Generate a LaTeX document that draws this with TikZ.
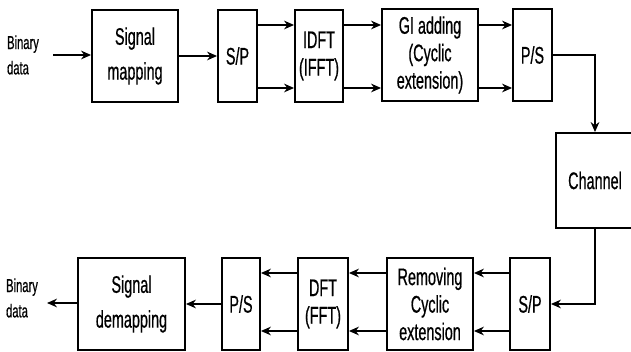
\documentclass[tikz,border=0pt]{standalone}
\usepackage{fontspec}
\setmainfont{Liberation Sans}[FakeStretch=0.6,FakeBold=0.6]
\usetikzlibrary{arrows.meta,positioning}
\tikzset{
  >={Stealth[length=7.5pt,width=6.5pt]},
  block/.style={rectangle,draw,line width=1.4pt,minimum height=69pt,align=center,inner sep=1pt,
    font=\fontsize{18}{20.6}\selectfont},
  iotext/.style={align=left,inner sep=0pt,font=\fontsize{14}{19}\selectfont},
  link/.style={->,line width=1.2pt}
}

\begin{document}
\begin{tikzpicture}[x=0.75pt,y=-0.75pt]
  \useasboundingbox (0,0) rectangle (631,352);

  % Transmitter
  \node[iotext] (datain) at (23,55) {Binary\\data};
  \node[block,minimum width=64.5pt] (mapping) at (135,56) {Signal\\[5.5pt]mapping};
  \node[block,minimum width=29.25pt] (sptx) at (237.5,56) {S/P};
  \node[block,minimum width=36pt] (idft) at (319,56) {IDFT\\(IFFT)};
  \node[block,minimum width=72pt] (giadd) at (430,55) {GI adding\\(Cyclic\\extension)};
  \node[block,minimum width=29.25pt] (pstx) at (532.5,55) {P/S};

  % Channel
  \node[block,minimum width=58.5pt,minimum height=71.25pt] (channel) at (595,180.5) {Channel};

  % Receiver
  \node[block,minimum width=30pt] (sprx) at (530,304) {S/P};
  \node[block,minimum width=64.5pt] (removing) at (430,304) {Removing\\Cyclic\\extension};
  \node[block,minimum width=37.5pt] (dft) at (323,304) {DFT\\(FFT)};
  \node[block,minimum width=28.5pt] (psrx) at (241,304) {P/S};
  \node[block,minimum width=80.25pt] (demapping) at (131.5,304) {Signal\\[5.5pt]demapping};
  \node[iotext] (dataout) at (22,298) {Binary\\data};

  \coordinate (instart) at (53,55);
  \coordinate (outend) at (47,303);
  \coordinate (txup) at (0,25);
  \coordinate (txlow) at (0,88);
  \coordinate (rxup) at (0,273);
  \coordinate (rxlow) at (0,331);

  % Connections
  \draw[link] (instart) -- (mapping.west |- instart);
  \draw[link] (mapping) -- (sptx);
  \draw[link] (sptx.east |- txup) -- (idft.west |- txup);
  \draw[link] (sptx.east |- txlow) -- (idft.west |- txlow);
  \draw[link] (idft.east |- txup) -- (giadd.west |- txup);
  \draw[link] (idft.east |- txlow) -- (giadd.west |- txlow);
  \draw[link] (giadd.east |- txup) -- (pstx.west |- txup);
  \draw[link] (giadd.east |- txlow) -- (pstx.west |- txlow);
  \draw[link] (pstx.east) -| (channel.north);
  \draw[link] (channel.south) |- (sprx.east);
  \draw[link] (sprx.west |- rxup) -- (removing.east |- rxup);
  \draw[link] (sprx.west |- rxlow) -- (removing.east |- rxlow);
  \draw[link] (removing.west |- rxup) -- (dft.east |- rxup);
  \draw[link] (removing.west |- rxlow) -- (dft.east |- rxlow);
  \draw[link] (dft.west |- rxup) -- (psrx.east |- rxup);
  \draw[link] (dft.west |- rxlow) -- (psrx.east |- rxlow);
  \draw[link] (psrx) -- (demapping);
  \draw[link] (demapping.west |- outend) -- (outend);
\end{tikzpicture}
\end{document}
